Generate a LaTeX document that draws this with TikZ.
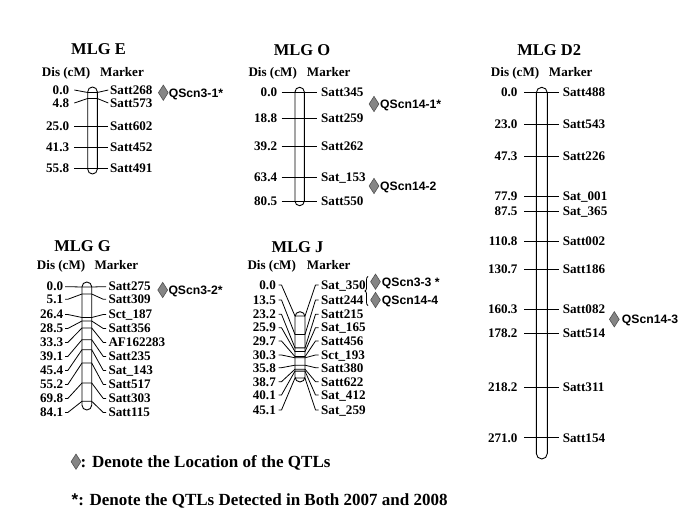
\documentclass[tikz,border=0pt]{standalone}
\usepackage{fontspec}
\setmainfont{Liberation Serif}
\newfontfamily\qtlfont{Liberation Sans}
\usetikzlibrary{shapes.geometric,decorations.pathreplacing}
\definecolor{qgray}{HTML}{858585}
\definecolor{qedge}{HTML}{505050}
\begin{document}
\begin{tikzpicture}[x=1pt,y=-1pt,
  titlet/.style={font=\fontsize{16.5}{18}\selectfont\bfseries, inner sep=0pt, text height=10.9pt, text depth=0pt},
  head/.style={font=\fontsize{13.1}{14}\selectfont\bfseries, inner sep=0pt, anchor=west, text height=8.6pt, text depth=0pt},
  num/.style={font=\fontsize{13.1}{14}\selectfont\bfseries, inner sep=0pt, anchor=east, text height=8.6pt, text depth=0pt},
  mk/.style={font=\fontsize{13.1}{14}\selectfont\bfseries, inner sep=0pt, anchor=west, text height=8.6pt, text depth=0pt},
  tickline/.style={line width=0.8pt, line join=round},
  chrom/.style={line width=0.9pt},
  qtl/.style={diamond, fill=qgray, draw=qedge, line width=0.6pt, minimum width=10pt, minimum height=15.5pt, inner sep=0pt},
  qlab/.style={font=\fontsize{12.2}{14}\qtlfont\bfseries, inner sep=0pt, anchor=west, text height=8.8pt, text depth=0pt},
  legt/.style={font=\fontsize{17}{18}\selectfont\bfseries, inner sep=0pt, anchor=west, text height=11.2pt, text depth=0pt}
]
\useasboundingbox (0,0) rectangle (685,518);

% ---------------- MLG E ----------------
\node[titlet] (tE) at (98.5,49.5) {MLG E};
\node[head] (dE) at (41.7,72) {Dis (cM)};
\node[head] (mE) at (100,72) {Marker};
\draw[chrom,rounded corners=4.8pt] (87.7,87) rectangle (97.3,174);
\foreach \n/\m/\yl/\yb [count=\i] in {0.0/Satt268/90/92.5, 4.8/Satt573/103/98.5, 25.0/Satt602/126.7/126.7, 41.3/Satt452/147.7/147.7, 55.8/Satt491/168.3/168.3}{
  \node[num] (E\i) at (69.3,\yl) {\n};
  \node[mk] (Em\i) at (110,\yl) {\m};
  \draw[tickline] ([xshift=5pt]E\i.east) -- (87.7,\yb) -- (97.3,\yb) -- ([xshift=-1.7pt]Em\i.west);
}
\node[qtl] (qE) at (163.3,92.7) {};
\node[qlab] (qEl) at (168.6,92.7) {QScn3-1*};

% ---------------- MLG O ----------------
\node[titlet] (tO) at (302,50) {MLG O};
\node[head] (dO) at (248.3,72) {Dis (cM)};
\node[head] (mO) at (306.7,72) {Marker};
\draw[chrom,rounded corners=4.6pt] (295,87.3) rectangle (304.3,205.7);
\foreach \n/\m/\yl [count=\i] in {0.0/Satt345/92, 18.8/Satt259/118.3, 39.2/Satt262/146.7, 63.4/Sat\_153/177.7, 80.5/Satt550/201.7}{
  \node[num] (O\i) at (277.3,\yl) {\n};
  \node[mk] (Om\i) at (321,\yl) {\m};
  \draw[tickline] ([xshift=4.4pt]O\i.east) -- ([xshift=-4.3pt]Om\i.west);
}
\node[qtl] (qO1) at (374,104) {};
\node[qlab] (qO1l) at (380,104) {QScn14-1*};
\node[qtl] (qO2) at (374,186) {};
\node[qlab] (qO2l) at (380,186) {QScn14-2};

% ---------------- MLG D2 ----------------
\node[titlet] (tD) at (549.2,49.7) {MLG D2};
\node[head] (dD) at (490.7,72) {Dis (cM)};
\node[head] (mD) at (548.7,72) {Marker};
\draw[chrom,rounded corners=5.5pt] (536.3,87.3) rectangle (547.3,459);
\foreach \n/\m/\yl [count=\i] in {0.0/Satt488/92.3, 23.0/Satt543/124, 47.3/Satt226/156.7, 77.9/Sat\_001/196.7, 87.5/Sat\_365/211.7, 110.8/Satt002/241.7, 130.7/Satt186/269.3, 160.3/Satt082/309.3, 178.2/Satt514/333.3, 218.2/Satt311/387.3, 271.0/Satt154/437.7}{
  \node[num] (D\i) at (517.7,\yl) {\n};
  \node[mk] (Dm\i) at (562.7,\yl) {\m};
  \draw[tickline] ([xshift=6.3pt]D\i.east) -- ([xshift=-3.4pt]Dm\i.west);
}
\node[qtl] (qD) at (614.3,319.3) {};
\node[qlab] (qDl) at (621.7,319.3) {QScn14-3};

% ---------------- MLG G ----------------
\node[titlet] (tG) at (82.5,246.3) {MLG G};
\node[head] (dG) at (36.7,265.5) {Dis (cM)};
\node[head] (mG) at (94.3,265.5) {Marker};
\draw[chrom,rounded corners=4.8pt] (82,282) rectangle (91.7,410);
\foreach \n/\m/\yl/\yb [count=\i] in {0.0/Satt275/286.7/287, 5.1/Satt309/299.3/294, 26.4/Sct\_187/314.5/317.5, 28.5/Satt356/328.5/321, 33.3/AF162283/342.5/328, 39.1/Satt235/356.5/339.7, 45.4/Sat\_143/370.5/349.7, 55.2/Satt517/384.5/363, 69.8/Satt303/398.5/383, 84.1/Satt115/412.5/401.3}{
  \node[num] (G\i) at (63.3,\yl) {\n};
  \node[mk] (Gm\i) at (108.3,\yl) {\m};
  \draw[tickline] ([xshift=1.7pt]G\i.east) -- ([xshift=4.5pt]G\i.east) -- (82,\yb) -- (91.7,\yb) -- ([xshift=-5pt]Gm\i.west) -- ([xshift=-2.3pt]Gm\i.west);
}
\node[qtl] (qG) at (162.7,290) {};
\node[qlab] (qGl) at (168.3,290) {QScn3-2*};

% ---------------- MLG J ----------------
\node[titlet] (tJ) at (297.5,246.8) {MLG J};
\node[head] (dJ) at (247.3,265.5) {Dis (cM)};
\node[head] (mJ) at (306.7,265.5) {Marker};
\draw[chrom,rounded corners=5pt] (295,311.7) rectangle (305,382);
\foreach \n/\m/\yl/\yb [count=\i] in {0.0/Sat\_350/285/316, 13.5/Satt244/300/334.5, 23.2/Satt215/314.3/347.9, 25.9/Sat\_165/327.7/351.6, 29.7/Satt456/341/356.6, 30.3/Sct\_193/355/357.8, 35.8/Satt380/367.7/365.2, 38.7/Satt622/381.7/369.2, 40.1/Sat\_412/395/371.1, 45.1/Sat\_259/410/378}{
  \node[num] (J\i) at (276,\yl) {\n};
  \node[mk] (Jm\i) at (321,\yl) {\m};
  \draw[tickline] ([xshift=2.5pt]J\i.east) -- ([xshift=5.5pt]J\i.east) -- (295,\yb) -- (305,\yb) -- ([xshift=-5.5pt]Jm\i.west) -- ([xshift=-2.5pt]Jm\i.west);
}
\coordinate (brT) at (368,276.5);
\coordinate (brB) at (368,305.5);
\draw[line width=0.8pt,decorate,decoration={brace,amplitude=3pt}] (brB) -- (brT);
\node[qtl] (qJ1) at (375.5,281.7) {};
\node[qlab] (qJ1l) at (381.7,281.7) {QScn3-3 *};
\node[qtl] (qJ2) at (375.5,300) {};
\node[qlab] (qJ2l) at (381.7,300) {QScn14-4};

% ---------------- Legend ----------------
\node[qtl] (lgd) at (76,461.7) {};
\node[legt] (lgt1) at (80.5,461.7) {: Denote the Location of the QTLs};
\node[legt] (lgt2) at (71.5,500) {{\qtlfont *}: Denote the QTLs Detected in Both 2007 and 2008};
\end{tikzpicture}
\end{document}
